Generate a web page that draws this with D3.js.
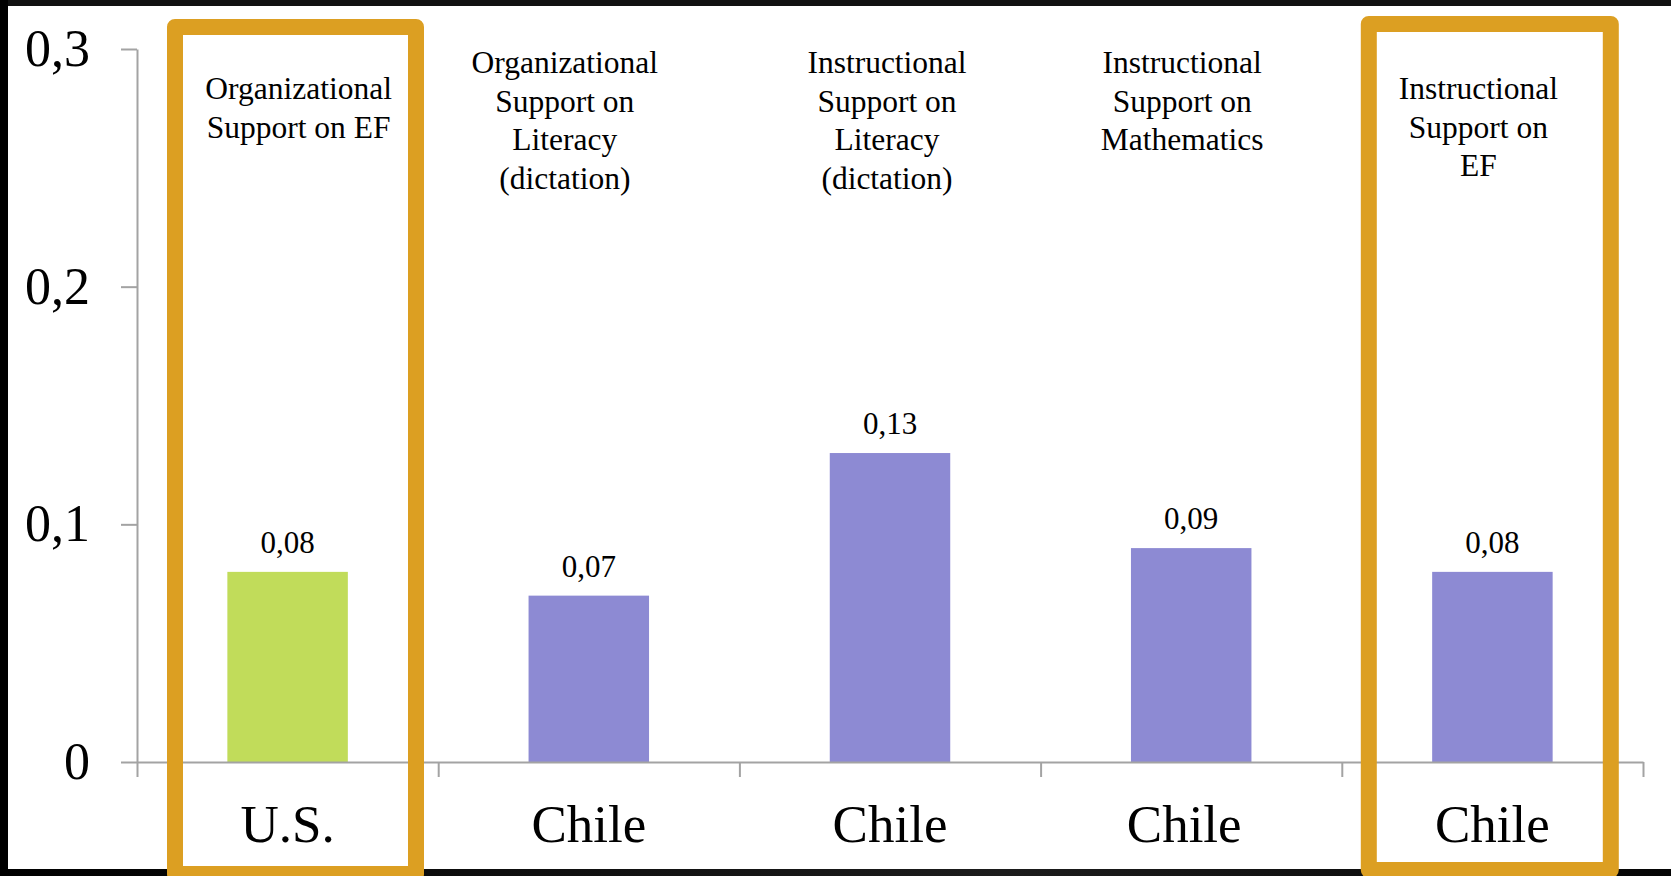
<!DOCTYPE html>
<html>
<head>
<meta charset="utf-8">
<script src="https://cdn.jsdelivr.net/npm/d3@7/dist/d3.min.js"></script>
<style>
  html, body { margin: 0; padding: 0; background: #fff; }
  svg { display: block; }
  text { font-family: "Liberation Serif", "Times New Roman", serif; fill: #000; }
</style>
</head>
<body>
<svg id="chart" width="1671" height="876"></svg>
<script>
// ---- data ----
const categories = ["U.S.", "Chile", "Chile", "Chile", "Chile"];
const headers = [
  ["Organizational", "Support on EF"],
  ["Organizational", "Support on", "Literacy", "(dictation)"],
  ["Instructional", "Support on", "Literacy", "(dictation)"],
  ["Instructional", "Support on", "Mathematics"],
  ["Instructional", "Support on", "EF"]
];
const values = [0.08, 0.07, 0.13, 0.09, 0.08];
const highlighted = [true, false, false, false, true];
const yTicks = [0, 0.1, 0.2, 0.3];
const yTickLabels = ["0", "0,1", "0,2", "0,3"];

// ---- layout / style ----
const W = 1671, H = 876;
const plot = { left: 137, right: 1643, top: 49, bottom: 762 };
const colorUS = "#c1dc5a", colorChile = "#8d8ad3", axisColor = "#a3a3a3", boxColor = "#dc9f22";
const headerDx = [11, -24, -3, -9, -14];
const headerTop = [99, 73, 73, 73, 99];
const catDx = [0, 0, 0, -7, 0];
const boxLayout = { 0: { dx: 38, w: 241, top: 27, bottom: 874 }, 4: { dx: 27, w: 242, top: 24, bottom: 870 } };

const fmt = d3.formatLocale({ decimal: ",", thousands: ".", grouping: [3], currency: ["", ""] }).format(".2f");

const svg = d3.select("#chart");

// frame
svg.append("rect").attr("x", 0).attr("y", 0).attr("width", W).attr("height", H).attr("fill", "#fff");

const idx = d3.range(categories.length);
const x = d3.scaleBand().domain(idx).range([plot.left, plot.right]).paddingInner(0.6).paddingOuter(0.3);
const xEdge = d3.scaleLinear().domain([0, categories.length]).range([plot.left, plot.right]);
const y = d3.scaleLinear().domain([0, 0.3]).range([plot.bottom, plot.top]);

// bars
svg.append("g").selectAll("rect").data(idx).join("rect")
  .attr("x", i => x(i))
  .attr("width", x.bandwidth())
  .attr("y", i => y(values[i]))
  .attr("height", i => y(0) - y(values[i]))
  .attr("fill", i => i === 0 ? colorUS : colorChile);

// x axis (category boundaries)
const gx = svg.append("g").attr("transform", `translate(0,${plot.bottom})`)
  .call(d3.axisBottom(xEdge).tickValues(d3.range(categories.length + 1)).tickSize(15).tickSizeOuter(0).tickFormat(""));
// y axis
const gy = svg.append("g").attr("transform", `translate(${plot.left},0)`)
  .call(d3.axisLeft(y).tickValues(yTicks).tickSize(16).tickSizeOuter(0).tickPadding(31)
    .tickFormat((d, i) => yTickLabels[i]));
[gx, gy].forEach(g => {
  g.selectAll("path, line").attr("stroke", axisColor).attr("stroke-width", 2);
});
gy.selectAll("text").style("font-family", '"Liberation Serif", "Times New Roman", serif')
  .style("font-size", "52px").attr("fill", "#000");

// value labels
svg.append("g").selectAll("text").data(idx).join("text")
  .attr("x", i => x(i) + x.bandwidth() / 2)
  .attr("y", i => y(values[i]) - 19)
  .attr("text-anchor", "middle")
  .style("font-size", "31px")
  .text(i => fmt(values[i]));

// category labels
svg.append("g").selectAll("text").data(idx).join("text")
  .attr("x", i => x(i) + x.bandwidth() / 2 + catDx[i])
  .attr("y", 842)
  .attr("text-anchor", "middle")
  .style("font-size", "53px")
  .text(i => categories[i]);

// header labels
const hg = svg.append("g");
idx.forEach(i => {
  const t = hg.append("text")
    .attr("x", x(i) + x.bandwidth() / 2 + headerDx[i])
    .attr("y", headerTop[i])
    .attr("text-anchor", "middle")
    .style("font-size", "31.5px");
  headers[i].forEach((line, k) => {
    t.append("tspan").attr("x", x(i) + x.bandwidth() / 2 + headerDx[i])
      .attr("y", headerTop[i] + k * 38.5).text(line);
  });
});

// highlight boxes
idx.filter(i => highlighted[i]).forEach(i => {
  const b = boxLayout[i];
  const x0 = xEdge(i) + b.dx;
  svg.append("rect")
    .attr("x", x0).attr("y", b.top).attr("width", b.w).attr("height", b.bottom - b.top)
    .attr("fill", "none").attr("stroke", boxColor).attr("stroke-width", 16)
    .attr("stroke-linejoin", "round");
});

// dark frame edges (slide border)
const defs = svg.append("defs");
const grad = defs.append("linearGradient").attr("id", "botg").attr("x1", 0).attr("x2", 1);
grad.append("stop").attr("offset", 0).attr("stop-color", "#000");
grad.append("stop").attr("offset", 0.6).attr("stop-color", "#1c1c1c");
grad.append("stop").attr("offset", 1).attr("stop-color", "#050505");
svg.insert("rect", "g").attr("x", 0).attr("y", 0).attr("width", W).attr("height", 6).attr("fill", "#111");
svg.insert("rect", "g").attr("x", 0).attr("y", 0).attr("width", 8).attr("height", H).attr("fill", "#000");
svg.insert("rect", "g").attr("x", 0).attr("y", 869).attr("width", W).attr("height", 7).attr("fill", "url(#botg)");
</script>
</body>
</html>
